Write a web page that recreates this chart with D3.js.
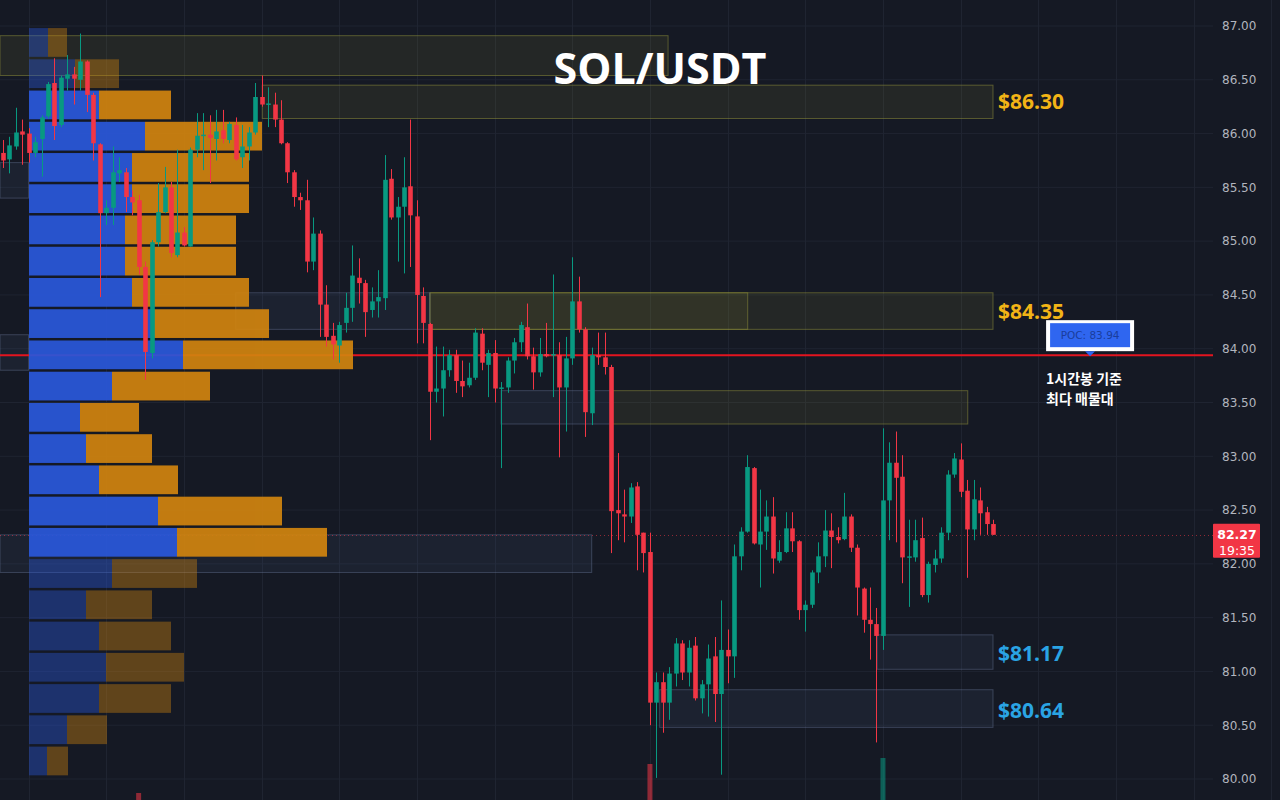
<!DOCTYPE html>
<html><head><meta charset="utf-8">
<script src="https://cdn.jsdelivr.net/npm/d3@7"></script>
<style>
html,body{margin:0;padding:0;background:#151924;overflow:hidden;}
svg{display:block;}
</style></head>
<body>
<svg id="chart" width="1280" height="800"></svg>
<script>
// ---------- DATA ----------
const title = "SOL/USDT";
const opens = [85.82,85.76,85.88,86.02,86.00,85.82,85.95,86.16,86.47,86.08,86.51,86.55,86.50,86.67,86.36,85.90,85.26,85.31,85.63,85.64,85.41,85.38,84.76,83.96,84.99,85.27,85.50,84.87,85.08,84.95,85.85,85.98,85.99,85.95,86.03,85.94,86.08,85.78,85.88,86.01,86.34,86.27,86.27,86.13,85.91,85.64,85.41,85.38,84.81,85.07,84.41,84.12,84.03,84.24,84.38,84.66,84.61,84.36,84.44,84.47,85.58,85.22,85.32,85.51,85.23,84.49,84.23,83.60,83.63,83.80,83.94,83.70,83.66,83.73,84.14,83.85,83.96,83.63,83.64,83.89,84.06,84.20,83.93,83.78,83.95,83.94,83.94,83.64,83.91,84.44,84.18,83.40,83.94,83.92,83.83,82.50,82.46,82.44,82.72,82.29,82.11,80.71,80.90,80.71,80.98,81.26,80.99,81.24,80.75,80.88,81.14,80.79,81.20,81.14,82.07,82.30,82.89,82.18,82.30,82.44,82.03,82.11,82.33,82.21,81.57,81.62,81.92,82.07,82.31,82.25,82.23,82.44,82.15,81.77,81.48,81.44,81.33,82.59,82.94,82.81,82.06,82.06,82.24,81.71,81.99,82.05,82.29,82.83,82.97,82.68,82.32,82.59,82.48,82.37];
const highs = [85.94,85.97,86.24,86.13,86.05,85.97,86.17,86.48,86.70,86.54,86.73,86.62,86.93,86.68,86.38,85.91,85.38,85.88,85.78,85.68,85.47,85.43,84.81,85.01,85.54,85.69,85.55,85.85,85.13,85.87,86.19,86.19,86.17,86.22,86.22,86.11,86.15,86.08,86.06,86.47,86.54,86.43,86.38,86.31,85.92,85.66,85.45,85.57,85.22,85.10,84.59,84.24,84.25,84.52,84.96,84.84,84.64,84.57,84.73,85.80,85.67,85.41,85.78,86.13,85.38,84.57,84.24,84.02,84.02,83.99,83.99,83.89,83.87,84.19,84.19,83.99,84.08,83.69,83.92,84.10,84.25,84.42,84.01,84.10,84.24,84.69,84.06,84.11,84.85,84.67,84.20,84.01,84.15,84.15,83.85,83.03,82.69,82.75,82.76,82.29,82.29,80.99,80.99,81.04,81.31,81.29,81.29,81.32,80.92,81.25,81.32,81.66,81.39,82.18,82.34,83.01,82.90,82.69,82.59,82.62,82.22,82.48,82.48,82.22,81.66,81.94,82.20,82.50,82.47,82.34,82.66,82.46,82.18,81.78,81.78,81.59,83.26,83.13,83.23,83.01,82.41,82.41,82.43,82.02,82.13,82.34,82.87,83.03,83.12,82.78,82.78,82.71,82.53,82.41];
const lows = [85.68,85.63,85.85,85.71,85.73,85.78,85.60,86.14,85.94,86.06,86.40,86.27,86.40,86.20,85.75,84.48,85.15,85.15,85.55,85.27,85.24,84.69,83.71,83.91,84.95,85.26,84.85,84.85,84.95,84.95,85.78,85.66,85.54,85.75,85.91,85.91,85.75,85.68,85.75,85.99,86.25,86.06,86.06,85.90,85.54,85.32,85.29,84.71,84.73,84.11,84.02,83.90,83.87,84.15,84.25,84.42,84.11,84.29,84.29,84.36,85.20,84.81,84.70,84.76,84.05,84.05,83.15,83.50,83.37,83.74,83.59,83.55,83.64,83.71,83.80,83.55,83.50,82.89,83.59,83.77,83.97,83.90,83.62,83.74,83.92,83.55,82.99,83.23,83.85,84.15,83.18,83.29,83.85,83.76,82.10,82.22,82.20,82.38,81.94,81.92,80.50,80.01,80.43,80.55,80.86,80.92,80.86,80.73,80.61,80.58,80.53,80.04,80.89,80.94,81.94,82.29,82.18,81.78,82.13,81.91,82.01,82.10,82.11,81.48,81.37,81.59,81.82,81.97,81.96,82.19,82.22,82.11,81.52,81.36,81.11,80.34,81.20,82.22,82.20,81.82,81.60,82.02,81.69,81.64,81.92,82.01,82.22,82.80,82.62,81.87,82.22,82.27,82.27,82.27];
const closes = [85.75,85.89,86.01,85.99,85.82,85.92,86.15,86.46,86.07,86.52,86.55,86.51,86.67,86.36,85.91,85.26,85.31,85.64,85.66,85.41,85.36,84.76,83.97,84.99,85.27,85.50,84.89,85.08,84.96,85.85,85.98,85.99,85.96,86.02,85.95,86.09,85.76,85.88,86.01,86.34,86.27,86.28,86.13,85.91,85.64,85.41,85.38,84.81,85.07,84.41,84.11,84.04,84.22,84.38,84.68,84.61,84.34,84.44,84.48,85.57,85.22,85.32,85.50,85.24,84.50,84.24,83.60,83.63,83.80,83.94,83.70,83.65,83.73,84.15,83.87,83.96,83.63,83.64,83.89,84.06,84.22,83.93,83.78,83.95,83.93,83.95,83.64,83.91,84.44,84.18,83.41,83.94,83.92,83.83,82.49,82.47,82.44,82.71,82.27,82.10,80.71,80.90,80.71,80.98,81.26,80.99,81.22,80.75,80.88,81.12,80.79,81.20,81.14,82.07,82.30,82.90,82.19,82.30,82.44,82.05,82.11,82.33,82.21,81.57,81.62,81.92,82.07,82.31,82.25,82.22,82.44,82.15,81.78,81.48,81.44,81.33,82.59,82.94,82.80,82.06,82.07,82.22,81.71,82.00,82.05,82.29,82.83,82.98,82.67,82.32,82.60,82.47,82.37,82.27];

// volume profile (24 rows, top -> bottom)
const profileHigh = 86.99, profileLow = 80.02;
const profileBuy  = [19,46,70,116,103,103,96,96,103,124,154,83,51,57,70,129,148,83,57,70,77,70,38,18];
const profileSell = [19,44,72,117,117,117,111,111,117,116,170,98,59,66,79,124,150,85,66,72,78,72,40,21];
const valueAreaHigh = 86.41, valueAreaLow = 82.05;
const pocPrice = 83.94;

// zones [fromIndex, toIndex, topPrice, bottomPrice, kind]
const zoneFrom = [-0.5, 40.1, 66, 66, 36, 94.1, 77, -0.5, 135.1, 101.5, -0.5, -0.5];
const zoneTo   = [102.8, 153, 153, 115.1, 66, 149.1, 94.1, 91, 153, 153, 4, 4];
const zoneTop  = [86.91, 86.45, 84.52, 84.52, 84.52, 83.61, 83.61, 82.27, 81.34, 80.83, 85.73, 84.13];
const zoneBot  = [86.54, 86.14, 84.18, 84.18, 84.18, 83.30, 83.30, 81.92, 81.02, 80.48, 85.40, 83.80];
const zoneKind = ["res","res","res","res","sup","res","sup","sup","sup","sup","sup","sup"];

const levelLabels = ["$86.30","$84.35","$81.17","$80.64"];
const levelPrices = [86.30, 84.35, 81.17, 80.64];
const levelKind = ["res","res","sup","sup"];

const priceTicks = [80,80.5,81,81.5,82,82.5,83,83.5,84,84.5,85,85.5,86,86.5,87];
const lastPrice = 82.27, countdown = "19:35";
const volIdx = [21, 100, 136];
const volVals = [57, 86, 92];
const pocNote = ["1시간봉 기준","최다 매물대"];

// ---------- SCALES ----------
const svg = d3.select("#chart");
const W = 1280, H = 800, plotRight = 1213;
const x = d3.scaleLinear().domain([0, opens.length - 1]).range([2.7, 993]);
const y = d3.scaleLinear().domain([80, 87]).range([779, 26]);
const pv = d3.scaleLinear().domain([0, 324]).range([29, 353]);
const vy = d3.scaleLinear().domain([0, 100]).range([850, 750]);

const UP = "#089981", DOWN = "#f23645";

svg.append("rect").attr("width", W).attr("height", H).attr("fill", "#151924");

// grid
const grid = svg.append("g");
grid.selectAll("line.h").data(priceTicks).join("line")
  .attr("x1", 0).attr("x2", plotRight).attr("y1", d => y(d)).attr("y2", d => y(d))
  .attr("stroke", "#1f2431").attr("stroke-width", 1);
const vIdx = d3.range(4, 200, 12);
grid.selectAll("line.v").data(vIdx).join("line")
  .attr("x1", d => Math.round(x(d)) + 0.5).attr("x2", d => Math.round(x(d)) + 0.5)
  .attr("y1", 0).attr("y2", H).attr("stroke", "#1f2431").attr("stroke-width", 1);

// zones
const zones = d3.range(zoneFrom.length).map(i => ({f: zoneFrom[i], t: zoneTo[i], top: zoneTop[i], bot: zoneBot[i], k: zoneKind[i]}));
svg.append("g").selectAll("rect").data(zones).join("rect")
  .attr("x", d => Math.max(0, x(d.f)))
  .attr("y", d => y(d.top))
  .attr("width", d => x(d.t) - Math.max(0, x(d.f)))
  .attr("height", d => y(d.bot) - y(d.top))
  .attr("fill", d => d.k === "res" ? "rgba(120,120,50,0.16)" : "rgba(70,90,130,0.14)")
  .attr("stroke", d => d.k === "res" ? "rgba(150,150,60,0.5)" : "rgba(110,125,160,0.4)")
  .attr("stroke-width", 1);

// POC line (under profile)
svg.append("line").attr("x1", 0).attr("x2", plotRight)
  .attr("y1", y(pocPrice)).attr("y2", y(pocPrice))
  .attr("stroke", "#e3141f").attr("stroke-width", 2);

// last price dotted line
svg.append("line").attr("x1", 0).attr("x2", plotRight)
  .attr("y1", Math.round(y(lastPrice)) + 0.5).attr("y2", Math.round(y(lastPrice)) + 0.5)
  .attr("stroke", "rgba(242,54,69,0.55)").attr("stroke-dasharray", "1,3");

// volume profile
const nRows = profileBuy.length;
const rowStep = (profileHigh - profileLow) / nRows;
const rows = d3.range(nRows).map(k => {
  const top = profileHigh - k * rowStep, bot = top - rowStep, mid = (top + bot) / 2;
  return {k, top, bot, buy: profileBuy[k], sell: profileSell[k], va: mid <= valueAreaHigh && mid >= valueAreaLow};
});
const prof = svg.append("g");
const rowG = prof.selectAll("g").data(rows).join("g").attr("opacity", d => d.va ? 0.92 : 0.4);
rowG.append("rect").attr("x", pv(0)).attr("y", d => y(d.top) + 1)
  .attr("width", d => pv(d.buy) - pv(0)).attr("height", d => y(d.bot) - y(d.top) - 2.5)
  .attr("fill", "#2a58db");
rowG.append("rect").attr("x", d => pv(d.buy)).attr("y", d => y(d.top) + 1)
  .attr("width", d => pv(d.buy + d.sell) - pv(d.buy)).attr("height", d => y(d.bot) - y(d.top) - 2.5)
  .attr("fill", "#d1840f");

// volume spikes
svg.append("g").selectAll("rect").data(volIdx).join("rect")
  .attr("x", d => x(d) - 2.5).attr("width", 5)
  .attr("y", (d, i) => vy(volVals[i])).attr("height", (d, i) => H - vy(volVals[i]))
  .attr("fill", d => closes[d] >= opens[d] ? "rgba(8,153,129,0.55)" : "rgba(242,54,69,0.55)");

// candles
const candles = opens.map((o, i) => ({i, o, h: highs[i], l: lows[i], c: closes[i]}));
const cg = svg.append("g").selectAll("g").data(candles).join("g");
cg.append("line")
  .attr("x1", d => Math.round(x(d.i)) + 0.5).attr("x2", d => Math.round(x(d.i)) + 0.5)
  .attr("y1", d => y(d.h)).attr("y2", d => y(d.l))
  .attr("stroke", d => d.c >= d.o ? UP : DOWN).attr("stroke-width", 1);
cg.append("rect")
  .attr("x", d => Math.round(x(d.i)) + 0.5 - 2.3).attr("width", 4.6)
  .attr("y", d => y(Math.max(d.o, d.c)))
  .attr("height", d => Math.max(1.5, Math.abs(y(d.o) - y(d.c))))
  .attr("fill", d => d.c >= d.o ? UP : DOWN);

// level labels
const lvl = svg.append("g");
lvl.selectAll("text").data(levelLabels).join("text")
  .attr("x", x(opens.length - 1) + 5)
  .attr("y", (d, i) => y(levelPrices[i]))
  .attr("dy", "0.36em")
  .attr("font-family", "'Open Sans','Noto Sans',sans-serif")
  .attr("font-weight", 700).attr("font-size", 21)
  .attr("fill", (d, i) => levelKind[i] === "res" ? "#f2b416" : "#2aa4e4")
  .text(d => d);

// title
svg.append("text").attr("x", 660).attr("y", 84).attr("text-anchor", "middle")
  .attr("font-family", "'Open Sans','Noto Sans',sans-serif").attr("font-weight", 700)
  .attr("font-size", 43).attr("fill", "#ffffff").text(title);

// right axis
const axis = d3.axisRight(y).tickValues(priceTicks).tickFormat(d3.format(".2f")).tickSize(0).tickPadding(0);
const ag = svg.append("g").attr("transform", `translate(1222,0)`).call(axis);
ag.select(".domain").remove();
ag.selectAll("text").attr("font-family", "'DejaVu Sans','Noto Sans',sans-serif")
  .attr("font-size", 12).attr("fill", "#b2b5be");

// last price tag
const ly = y(lastPrice);
svg.append("rect").attr("x", 1213).attr("y", ly - 11).attr("width", 47).attr("height", 34).attr("rx", 1).attr("fill", "#f23645");
svg.append("text").attr("x", 1237).attr("y", ly).attr("dy", "0.36em").attr("text-anchor", "middle")
  .attr("font-family", "'DejaVu Sans','Noto Sans',sans-serif").attr("font-size", 12.5).attr("font-weight", 700)
  .attr("fill", "#ffffff").text(d3.format(".2f")(lastPrice));
svg.append("text").attr("x", 1237).attr("y", ly + 16).attr("dy", "0.36em").attr("text-anchor", "middle")
  .attr("font-family", "'DejaVu Sans','Noto Sans',sans-serif").attr("font-size", 12.5)
  .attr("fill", "#ffffff").text(countdown);

// POC callout
const px = x(168), py = y(pocPrice);
const cw = 88, ch = 31;
svg.append("rect").attr("x", px - cw / 2).attr("y", py - 35).attr("width", cw).attr("height", ch).attr("fill", "#ffffff");
svg.append("rect").attr("x", px - cw / 2 + 4).attr("y", py - 32).attr("width", cw - 8).attr("height", ch - 7).attr("fill", "#2f66f0");
svg.append("path").attr("d", d3.line()([[px - 5, py - 4], [px + 5, py - 4], [px, py + 1]])).attr("fill", "#2f66f0");
svg.append("text").attr("x", px).attr("y", py - 20).attr("dy", "0.36em").attr("text-anchor", "middle")
  .attr("font-family", "'DejaVu Sans','Noto Sans',sans-serif").attr("font-size", 10.5)
  .attr("fill", "#1a3d9c").text("POC: " + d3.format(".2f")(pocPrice));
svg.append("g").selectAll("text").data(pocNote).join("text")
  .attr("x", px - cw / 2).attr("y", (d, i) => py + 29 + i * 19.5)
  .attr("font-family", "'Noto Sans CJK KR','Noto Sans',sans-serif").attr("font-weight", 700)
  .attr("font-size", 14).attr("fill", "#ffffff").text(d => d);
</script>
</body></html>
